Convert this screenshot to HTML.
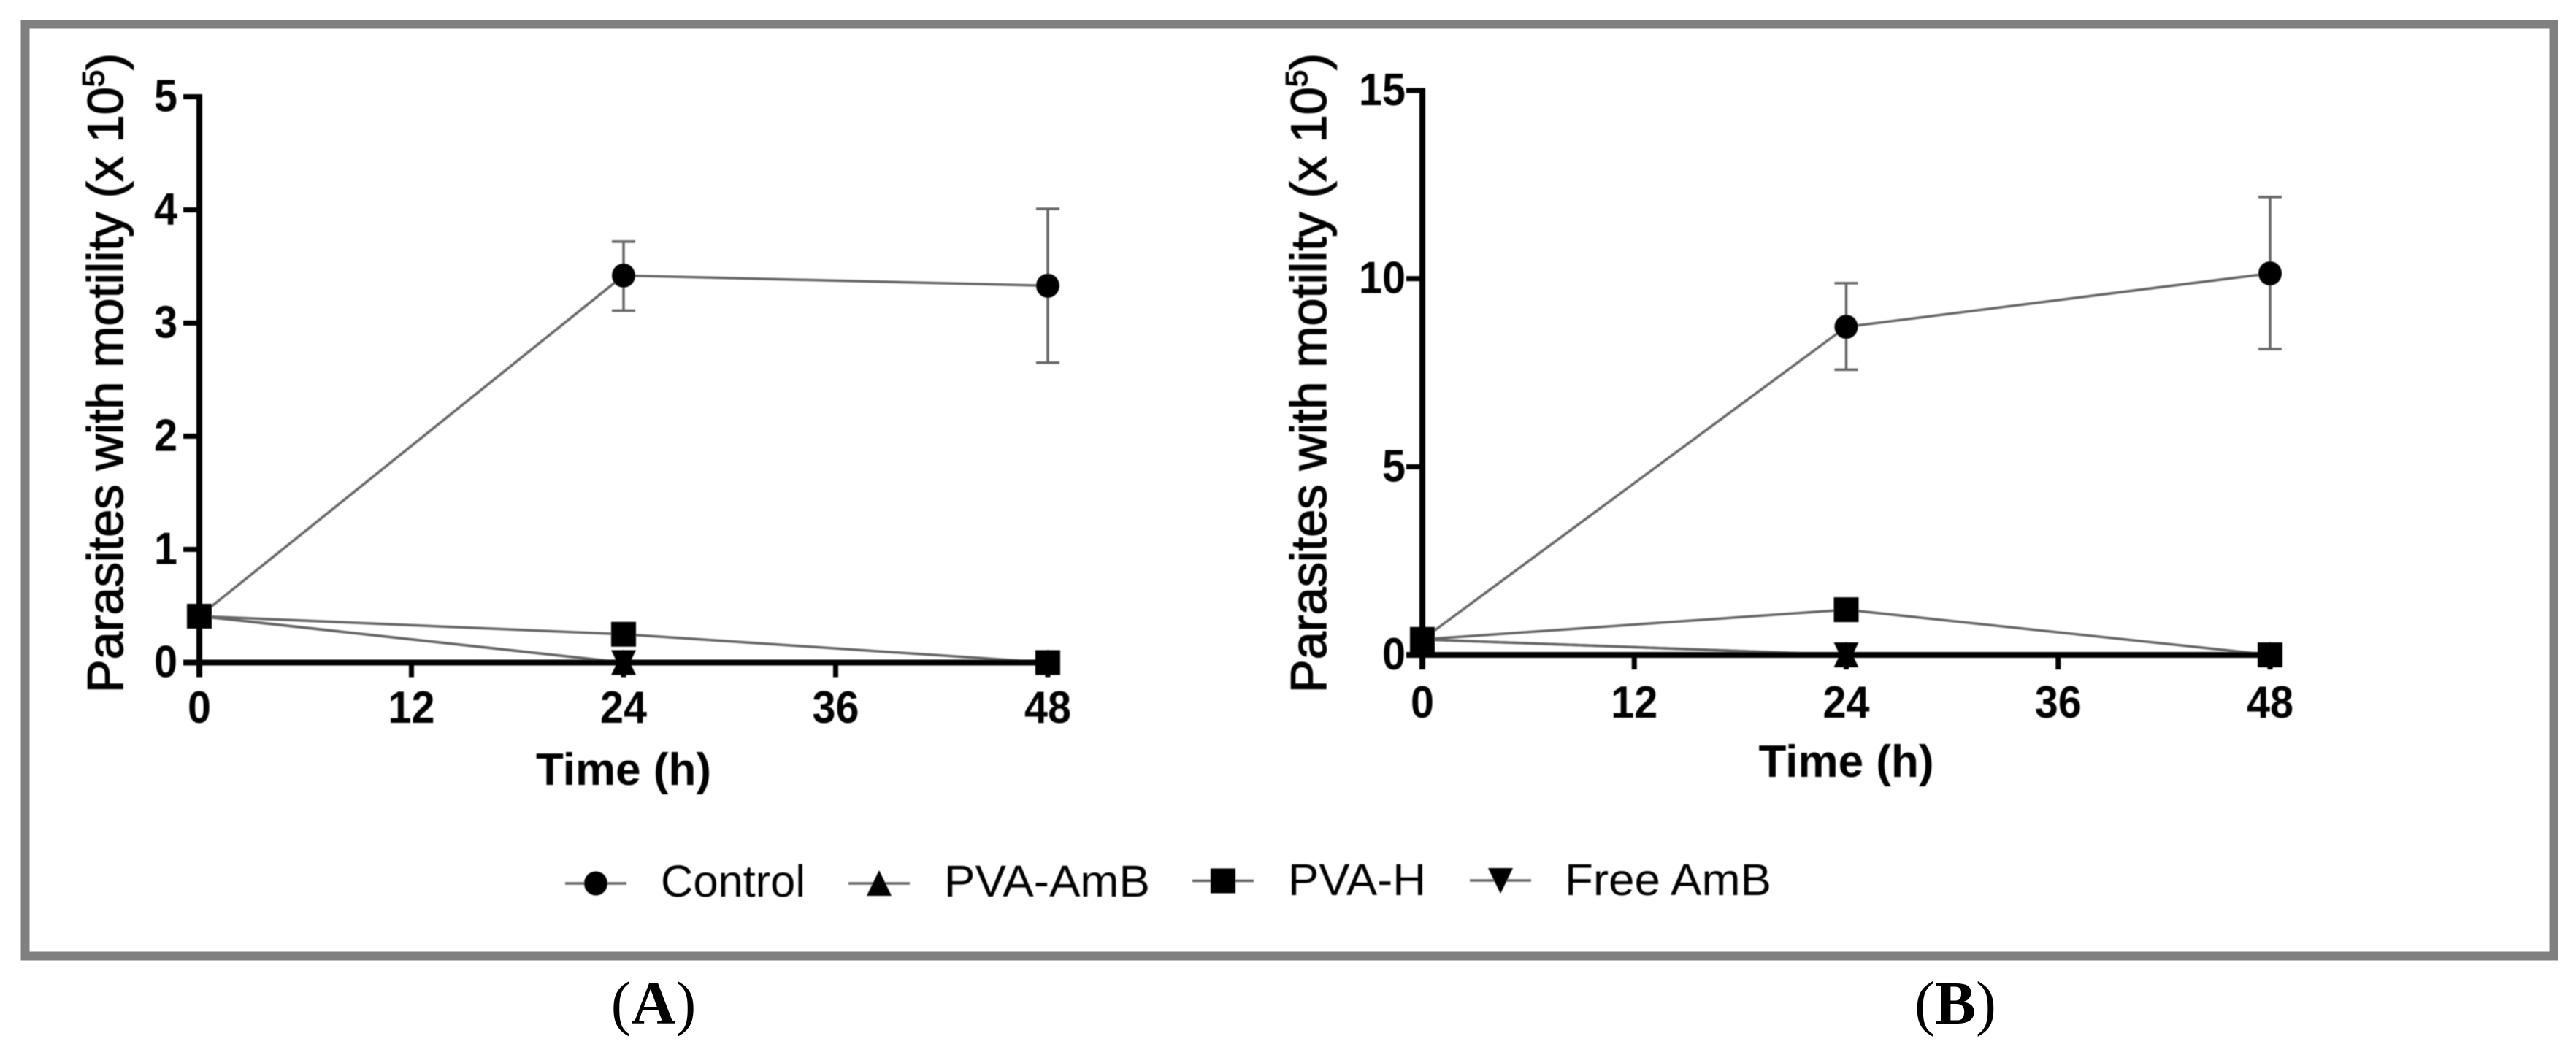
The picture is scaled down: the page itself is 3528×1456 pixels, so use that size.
<!DOCTYPE html>
<html lang="en">
<head>
<meta charset="utf-8">
<title>Parasites with motility over time</title>
<style>
html,body{margin:0;padding:0;background:#fff;}
body{width:3528px;height:1456px;overflow:hidden;}
svg{display:block;}
text{font-family:"Liberation Sans",Arial,sans-serif;fill:#000;}
.tick{font-weight:700;font-size:62px;}
.xtitle{font-weight:700;font-size:62px;}
.ytitle{font-size:68.5px;stroke:#000;stroke-width:1.4px;}
.leg{font-size:61px;}
.cap{font-family:"Liberation Serif",serif;font-size:84px;}
</style>
</head>
<body>
<svg id="fig" xmlns="http://www.w3.org/2000/svg" width="3528" height="1456" viewBox="0 0 3528 1456">
  <defs><filter id="soft" x="-5%" y="-5%" width="110%" height="110%"><feGaussianBlur stdDeviation="0.9"/></filter></defs>
  <rect x="34.5" y="33.5" width="3463" height="1276" fill="#fff" stroke="#808080" stroke-width="12"/>
  <g id="charts" filter="url(#soft)"></g>
  <g id="legend" filter="url(#soft)">
    <text class="leg" x="905" y="1228" textLength="198" lengthAdjust="spacingAndGlyphs">Control</text>
    <text class="leg" x="1293" y="1228" textLength="282" lengthAdjust="spacingAndGlyphs">PVA-AmB</text>
    <text class="leg" x="1764" y="1226" textLength="189" lengthAdjust="spacingAndGlyphs">PVA-H</text>
    <text class="leg" x="2143" y="1226" textLength="283" lengthAdjust="spacingAndGlyphs">Free AmB</text>
  </g>
  <text class="cap" x="895" y="1402" text-anchor="middle">(<tspan font-weight="700">A</tspan>)</text>
  <text class="cap" x="2678" y="1402" text-anchor="middle">(<tspan font-weight="700">B</tspan>)</text>
</svg>
<script>
// Shared axes
const hours = [0, 24, 48];
const xTickLabels = [0, 12, 24, 36, 48];

// Panel A values (x 10^5)
const yTickLabelsA = [0, 1, 2, 3, 4, 5];
const controlA = [0.41, 3.42, 3.33];
const controlUpperA = [0.41, 3.72, 4.01];
const controlLowerA = [0.41, 3.11, 2.65];
const pvaAmbA = [0.41, 0, 0];
const pvaHA = [0.41, 0.25, 0];
const freeAmbA = [0.41, 0, 0];

// Panel B values (x 10^5)
const yTickLabelsB = [0, 5, 10, 15];
const controlB = [0.41, 8.72, 10.14];
const controlUpperB = [0.41, 9.88, 12.17];
const controlLowerB = [0.41, 7.58, 8.13];
const pvaAmbB = [0.41, 0, 0];
const pvaHB = [0.41, 1.2, 0];
const freeAmbB = [0.41, 0, 0];

const NS = 'http://www.w3.org/2000/svg';
const LINE = '#666666';

function mk(tag, attrs, parent) {
  const el = document.createElementNS(NS, tag);
  for (const k in attrs) el.setAttribute(k, attrs[k]);
  parent.appendChild(el);
  return el;
}

function markerPath(kind, cx, cy) {
  if (kind === 'tri') return `M${cx-17} ${cy+17}L${cx} ${cy-18}L${cx+17} ${cy+17}Z`;
  if (kind === 'inv') return `M${cx-17} ${cy-17}L${cx+17} ${cy-17}L${cx} ${cy+18}Z`;
  return `M${cx-17} ${cy-17}H${cx+17}V${cy+17}H${cx-17}Z`;
}

function drawMarker(kind, cx, cy, parent) {
  if (kind === 'circle') {
    const c = mk('ellipse', {cx: cx, cy: cy, rx: 16, ry: 16.5, fill: '#000'}, parent);
    
    
  } else {
    const p = mk('path', {d: markerPath(kind, cx, cy), fill: '#000'}, parent);
    
    
  }
}

function drawPanel(id, box, yTicks, yMax, control, upper, lower, amb, pvaH, free) {
  const root = document.getElementById('charts');
  const g = mk('g', {}, root);
  
  
  const X = v => box.x0 + (v / 48) * (box.x48 - box.x0);
  const Y = v => box.y0 - (v / yMax) * (box.y0 - box.yTop);

  // series: order keeps squares on top as in the source
  const series = [
    ['control', 'circle', control],
    ['pva-amb', 'tri', amb],
    ['free-amb', 'inv', free],
    ['pva-h', 'square', pvaH]
  ];

  // error bars for control
  hours.forEach((h, i) => {
    if (upper[i] === lower[i]) return;
    const bar = mk('path', {
      d: `M${X(h)-16} ${Y(upper[i])}H${X(h)+16}M${X(h)} ${Y(upper[i])}V${Y(lower[i])}M${X(h)-16} ${Y(lower[i])}H${X(h)+16}`,
      fill: 'none', stroke: LINE, 'stroke-width': 3.5
    }, g);
    
    
  });

  series.forEach(s => {
    const pts = hours.map((h, i) => X(h) + ',' + Y(s[2][i])).join(' ');
    const line = mk('polyline', {points: pts, fill: 'none', stroke: LINE, 'stroke-width': 3.5}, g);
    
    
  });

  // y axis
  const yAxis = mk('line', {x1: box.x0, x2: box.x0, y1: box.yTop - 3.5, y2: box.y0 + 20, stroke: '#000', 'stroke-width': 8}, g);
  
  
  // x axis
  const xAxis = mk('line', {x1: box.x0 - 22, x2: box.x48 + 4, y1: box.y0, y2: box.y0, stroke: '#000', 'stroke-width': 8}, g);
  
  

  yTicks.forEach(v => {
    const t = mk('line', {x1: box.x0 - 22, x2: box.x0, y1: Y(v), y2: Y(v), stroke: '#000', 'stroke-width': 7}, g);
    
    
    const l = mk('text', {class: 'tick', x: box.yLabelX, y: Y(v) + 20, 'text-anchor': 'end', textLength: String(v).length * 32, lengthAdjust: 'spacingAndGlyphs'}, g);
    
    
    l.textContent = v;
  });
  xTickLabels.forEach(v => {
    const t = mk('line', {x1: X(v), x2: X(v), y1: box.y0, y2: box.y0 + 20, stroke: '#000', 'stroke-width': 7}, g);
    
    
    const l = mk('text', {class: 'tick', x: X(v), y: box.xLabelY, 'text-anchor': 'middle', textLength: String(v).length * 32, lengthAdjust: 'spacingAndGlyphs'}, g);
    
    
    l.textContent = v;
  });

  const xt = mk('text', {class: 'xtitle', x: X(24), y: box.xTitleY, 'text-anchor': 'middle'}, g);
  
  
  xt.textContent = 'Time (h)';

  const yt = mk('text', {class: 'ytitle', transform: `translate(${box.yTitleX} 949) rotate(-90)`}, g);
  
  
  yt.appendChild(document.createTextNode('Parasites with motility (x 10'));
  const sup = mk('tspan', {dy: -26, 'font-size': 42}, yt);
  sup.textContent = '5';
  const close = mk('tspan', {dy: 26}, yt);
  close.textContent = ')';

  series.forEach(s => {
    hours.forEach((h, i) => drawMarker(s[1], X(h), Y(s[2][i]), g));
  });
}

drawPanel('a',
  {x0: 273, x48: 1435, y0: 907.5, yTop: 132.5, yLabelX: 243, xLabelY: 990, xTitleY: 1075, yTitleX: 168},
  yTickLabelsA, 5, controlA, controlUpperA, controlLowerA, pvaAmbA, pvaHA, freeAmbA);
drawPanel('b',
  {x0: 1948, x48: 3109, y0: 897, yTop: 124, yLabelX: 1925, xLabelY: 983, xTitleY: 1064, yTitleX: 1816},
  yTickLabelsB, 15, controlB, controlUpperB, controlLowerB, pvaAmbB, pvaHB, freeAmbB);

// Legend keys
const legendKeys = [
  ['control', 'circle'],
  ['pva-amb', 'tri'],
  ['pva-h', 'square'],
  ['free-amb', 'inv']
];
const legendRoot = document.getElementById('legend');
const legendCx = {control: 816, 'pva-amb': 1204, 'pva-h': 1675, 'free-amb': 2055};
const legendCy = {control: 1210, 'pva-amb': 1210, 'pva-h': 1206.5, 'free-amb': 1206};
legendKeys.forEach(k => {
  const cx = legendCx[k[0]], cy = legendCy[k[0]];
  const l = mk('line', {x1: cx - 42, x2: cx + 42, y1: cy, y2: cy, stroke: LINE, 'stroke-width': 3.5}, legendRoot);
  
  
  drawMarker(k[1], cx, cy, legendRoot);
});
</script>
</body>
</html>
